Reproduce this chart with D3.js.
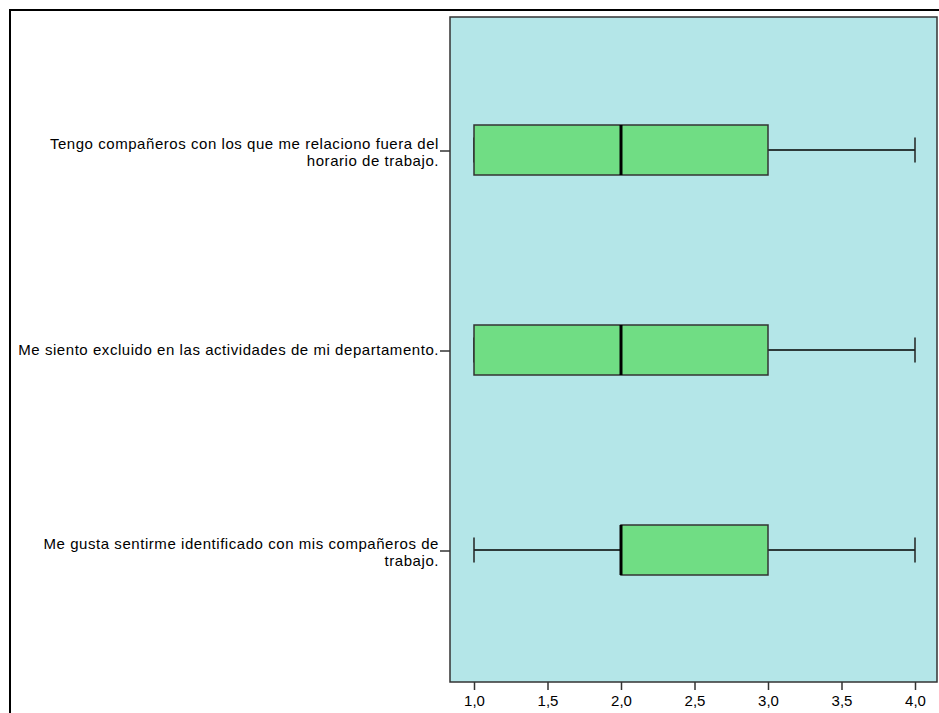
<!DOCTYPE html>
<meta charset="UTF-8">
<style>
body { margin: 0; background: #fff; }
text { font-family: "Liberation Sans", Arial, sans-serif; font-size: 15px; fill: #000; }
.row text { letter-spacing: 0.55px; }
</style>
<body>
<script src="https://d3js.org/d3.v7.min.js"></script>
<script>
// categories, top to bottom (label lines)
var categories = [
  ["Tengo compañeros con los que me relaciono fuera del", "horario de trabajo."],
  ["Me siento excluido en las actividades de mi departamento."],
  ["Me gusta sentirme identificado con mis compañeros de", "trabajo."]
];
var mins    = [1, 1, 1];
var q1s     = [1, 1, 2];
var medians = [2, 2, 2];
var q3s     = [3, 3, 3];
var maxs    = [4, 4, 4];
var xTicks  = [1.0, 1.5, 2.0, 2.5, 3.0, 3.5, 4.0];

var W = 939, H = 713;
var plot = {left: 450, top: 17, right: 937, bottom: 682};

var svg = d3.select("body").append("svg")
    .attr("width", W)
    .attr("height", H);

// outer frame
svg.append("rect")
    .attr("x", 10).attr("y", 10)
    .attr("width", W + 20).attr("height", H + 20)
    .attr("fill", "#fff")
    .attr("stroke", "#000")
    .attr("stroke-width", 2);

// plot background
svg.append("rect")
    .attr("x", plot.left).attr("y", plot.top)
    .attr("width", plot.right - plot.left)
    .attr("height", plot.bottom - plot.top)
    .attr("fill", "#b4e6e8")
    .attr("stroke", "#333")
    .attr("stroke-width", 1.5);

var x = d3.scaleLinear().domain([1, 4]).range([474, 915]);
var y = d3.scalePoint().domain(d3.range(categories.length)).range([150, 550]);

// x axis
var xAxis = svg.append("g")
    .attr("transform", "translate(0," + plot.bottom + ")")
    .call(d3.axisBottom(x).tickValues(xTicks).tickSize(8).tickPadding(5)
      .tickFormat(function(d) { return d3.format(".1f")(d).replace(".", ","); }));
xAxis.select(".domain").remove();
xAxis.selectAll("line").attr("stroke", "#333").attr("stroke-width", 1.5);
xAxis.selectAll("text").attr("font-size", 14.5).attr("font-family", "Liberation Sans, Arial, sans-serif").attr("fill", "#000");

// category labels and ticks
var rows = svg.selectAll(".row")
    .data(categories)
  .enter().append("g")
    .attr("class", "row")
    .attr("transform", function(d, i) { return "translate(0," + y(i) + ")"; });

rows.append("line")
    .attr("x1", 440).attr("x2", plot.left)
    .attr("y1", 1).attr("y2", 1)
    .attr("stroke", "#333").attr("stroke-width", 1.5);

rows.each(function(lines) {
  var g = d3.select(this);
  var first = lines.length > 1 ? -1 : 5;
  lines.forEach(function(t, k) {
    g.append("text")
      .attr("x", 439)
      .attr("y", first + k * 17)
      .attr("text-anchor", "end")
      .text(t);
  });
});

// boxplots
var boxH = 50, capH = 25;
var boxes = svg.selectAll(".box")
    .data(categories.map(function(c, i) { return i; }))
  .enter().append("g")
    .attr("class", "box")
    .attr("transform", function(i) { return "translate(0," + y(i) + ")"; });

// whiskers
boxes.append("line")
    .attr("x1", function(i) { return x(mins[i]); })
    .attr("x2", function(i) { return x(q1s[i]); })
    .attr("stroke", "#000").attr("stroke-width", 1.5);
boxes.append("line")
    .attr("x1", function(i) { return x(q3s[i]); })
    .attr("x2", function(i) { return x(maxs[i]); })
    .attr("stroke", "#000").attr("stroke-width", 1.5);
// caps
[mins, maxs].forEach(function(arr) {
  boxes.append("line")
    .attr("x1", function(i) { return x(arr[i]); })
    .attr("x2", function(i) { return x(arr[i]); })
    .attr("y1", -capH / 2).attr("y2", capH / 2)
    .attr("stroke", "#222").attr("stroke-width", 1.5);
});
// box
boxes.append("rect")
    .attr("x", function(i) { return x(q1s[i]); })
    .attr("y", -boxH / 2)
    .attr("width", function(i) { return x(q3s[i]) - x(q1s[i]); })
    .attr("height", boxH)
    .attr("fill", "#70dd84")
    .attr("stroke", "#333")
    .attr("stroke-width", 1.5);
// median
boxes.append("line")
    .attr("x1", function(i) { return x(medians[i]); })
    .attr("x2", function(i) { return x(medians[i]); })
    .attr("y1", -boxH / 2).attr("y2", boxH / 2)
    .attr("stroke", "#000").attr("stroke-width", 3);
</script>
</body>
